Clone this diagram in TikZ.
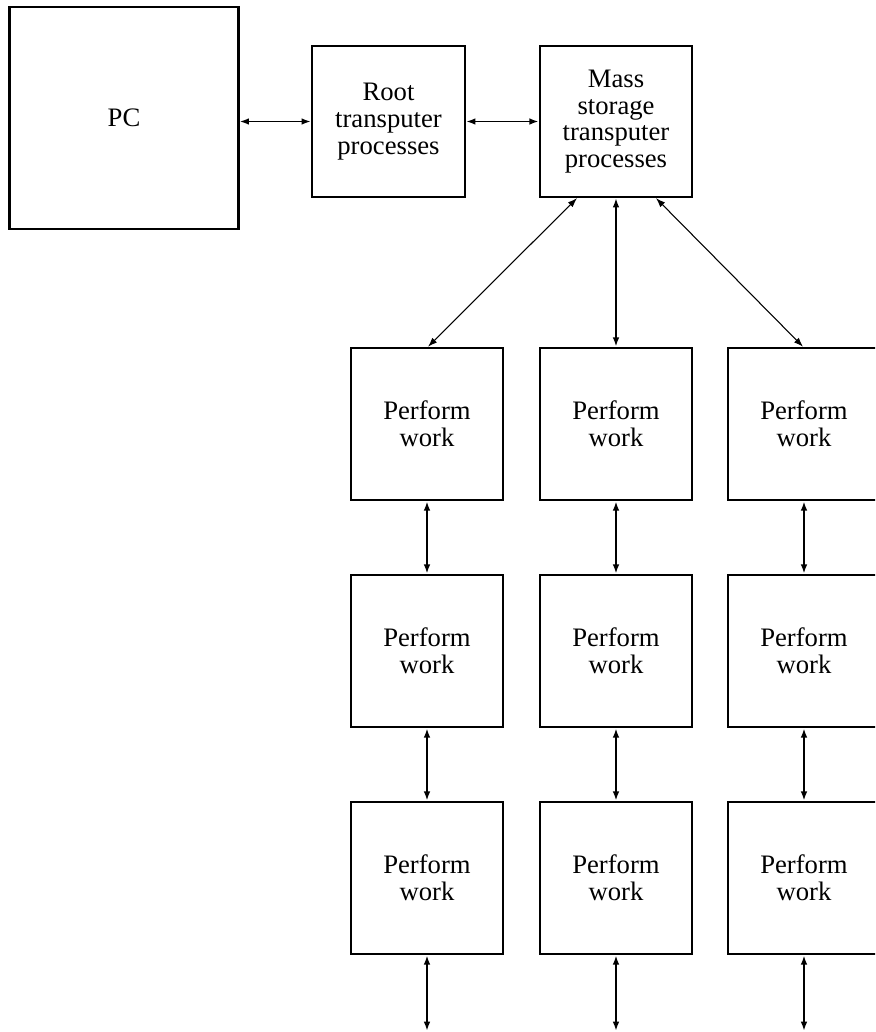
\documentclass[tikz,border=0pt]{standalone}
\usepackage{fontspec}
\setmainfont{Liberation Serif}
\usetikzlibrary{arrows.meta,calc}
\begin{document}
\begin{tikzpicture}[x=0.75pt,y=-0.75pt,
  box/.style={draw,line width=1.9pt,minimum width=114pt,minimum height=114pt,inner sep=0pt,align=center,font=\fontsize{20}{20}\selectfont},
  link/.style={line width=1.4pt,{Latex[length=7pt,width=5pt]}-{Latex[length=7pt,width=5pt]}},
  vlink/.style={link,line width=1.6pt},
  dlink/.style={link,line width=0.8pt}]
\useasboundingbox (0,0) rectangle (875,1032);
\clip (0,0) rectangle (875,1032);
\node[box,minimum width=171.5pt,minimum height=166.5pt] (PC) at (124,118) {PC};
\node[box,minimum width=114.5pt,minimum height=113pt] (Root) at (388.5,121.5) {Root\\transputer\\processes};
\node[box,minimum height=113pt] (Mass) at (616,121.5) {Mass\\storage\\transputer\\processes};
\foreach \c/\x in {1/427,2/616,3/804}{
  \foreach \r/\y in {1/424,2/651,3/878}{
    \node[box] (P\r\c) at (\x,\y) {Perform\\work};
  }
  \coordinate (E\c) at (\x,1031);
}
\draw[link] (PC.east |- Root.west) -- (Root.west);
\draw[link] (Root.east) -- (Mass.west);
\draw[dlink] ($(Mass.south)+(-39,0)$) -- ($(P11.north)+(1,0)$);
\draw[vlink] (Mass.south) -- (P12.north);
\draw[dlink] ($(Mass.south)+(40,0)$) -- ($(P13.north)+(-1,0)$);
\foreach \c in {1,2,3}{
  \draw[vlink] (P1\c.south) -- (P2\c.north);
  \draw[vlink] (P2\c.south) -- (P3\c.north);
  \draw[vlink] (P3\c.south) -- (E\c);
}
\end{tikzpicture}
\end{document}
